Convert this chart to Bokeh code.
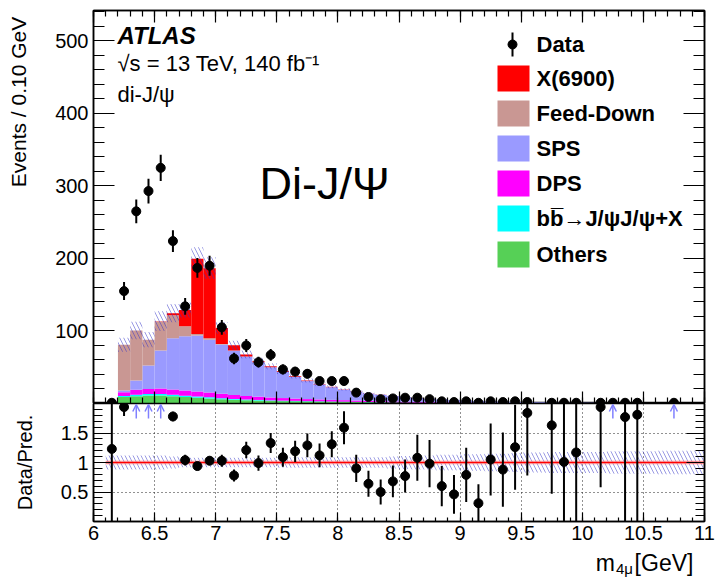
import numpy as np
from bokeh.plotting import figure
from bokeh.layouts import column
from bokeh.models import (ColumnDataSource, FixedTicker, Label, Arrow, OpenHead,
                          Range1d, LinearAxis, CustomJSTickFormatter)
from bokeh.embed import file_html
from bokeh.resources import INLINE

# ---------------- data (bins of 0.10 GeV starting at 6.1 GeV) ----------------
bin_lo = 6.1
bin_w = 0.1
n_bins = 49

data_counts = [1, 155, 265, 293, 325, 224, 134, 187, 190, 105,
               62, 80, 57, 67, 47, 44, 41, 31, 31, 31,
               15, 9, 6, 7, 8, 8, 6, 3, 2, 3,
               1, 3, 2, 3, 2, None, 1, 1, 1, None,
               1, 1, 1, 1, None, None, 1, None, None]
data_err = [1.0, 12.4, 16.3, 17.1, 18.0, 15.0, 11.6, 13.7, 13.8, 10.2,
            7.9, 8.9, 7.5, 8.2, 6.9, 6.6, 6.4, 5.6, 5.6, 5.6,
            3.9, 3.0, 2.4, 2.6, 2.8, 2.8, 2.4, 1.7, 1.4, 1.7,
            1.0, 1.7, 1.4, 1.7, 1.4, None, 1.0, 1.0, 1.0, None,
            1.0, 1.0, 1.0, 1.0, None, None, 1.0, None, None]

x6900 = [0, 0, 0, 0, 0.5, 3.0, 22.3, 103.5, 96.7, 22.0,
         7.0, 2.8, 1.4, 1.3, 1.1, 1.0, 0.8, 0.6, 0.5, 0.4,
         0.3, 0.2, 0.2, 0.1, 0.1, 0.1, 0.05, 0, 0, 0,
         0, 0, 0, 0, 0, 0, 0, 0, 0, 0,
         0, 0, 0, 0, 0, 0, 0, 0, 0]
feed_down = [0, 63.0, 69.0, 35.6, 40.0, 31.6, 13.8, 2.2, 2.0, 0.5,
             0.2, 0, 0, 0, 0, 0, 0, 0, 0, 0,
             0, 0, 0, 0, 0, 0, 0, 0, 0, 0,
             0, 0, 0, 0, 0, 0, 0, 0, 0, 0,
             0, 0, 0, 0, 0, 0, 0, 0, 0]
sps = [0.2, 2.5, 12.7, 32.4, 52.3, 70.7, 74.9, 77.2, 73.0, 68.2,
       61.3, 54.3, 47.6, 41.7, 36.0, 29.9, 24.8, 20.8, 17.5, 14.5,
       12.3, 10.1, 8.5, 7.4, 6.45, 5.5, 4.6, 3.85, 3.3, 2.8,
       2.35, 1.95, 1.67, 1.48, 1.27, 1.03, 0.89, 0.75, 0.64, 0.54,
       0.48, 0.40, 0.33, 0.30, 0.27, 0.24, 0.21, 0.18, 0.14]
dps = [0.2, 5.0, 7.0, 7.0, 7.7, 7.3, 7.2, 7.0, 6.5, 6.0,
       5.5, 5.0, 4.5, 4.0, 3.6, 3.2, 2.8, 2.5, 2.2, 2.0,
       1.8, 1.6, 1.4, 1.2, 1.05, 0.9, 0.8, 0.7, 0.6, 0.5,
       0.45, 0.4, 0.35, 0.3, 0.27, 0.24, 0.21, 0.19, 0.17, 0.15,
       0.13, 0.12, 0.11, 0.10, 0.09, 0.08, 0.07, 0.06, 0.05]
bbbar = [0.1, 1.5, 2.0, 2.0, 2.0, 2.0, 1.8, 1.6, 1.5, 1.3,
         1.2, 1.0, 0.9, 0.8, 0.7, 0.6, 0.5, 0.5, 0.4, 0.4,
         0.3, 0.3, 0.3, 0.2, 0.2, 0.2, 0.15, 0.15, 0.1, 0.1,
         0.1, 0.1, 0.08, 0.07, 0.06, 0.05, 0.05, 0.04, 0.04, 0.03,
         0.03, 0.03, 0.02, 0.02, 0.02, 0.02, 0.02, 0.01, 0.01]
others = [0.3, 9.0, 10.0, 11.0, 11.0, 10.0, 9.0, 8.0, 7.0, 6.0,
          5.0, 4.5, 4.0, 3.5, 3.2, 3.0, 2.8, 2.6, 2.4, 2.2,
          2.0, 1.8, 1.6, 1.4, 1.2, 1.0, 0.9, 0.8, 0.7, 0.6,
          0.5, 0.45, 0.4, 0.35, 0.3, 0.28, 0.25, 0.22, 0.2, 0.18,
          0.16, 0.15, 0.14, 0.13, 0.12, 0.11, 0.1, 0.1, 0.1]

rel_unc = [0.12, 0.12, 0.12, 0.12, 0.12, 0.10, 0.08, 0.08, 0.08, 0.08,
           0.08, 0.08, 0.08, 0.08, 0.09, 0.09, 0.09, 0.09, 0.09, 0.09,
           0.09, 0.09, 0.09, 0.10, 0.11, 0.12, 0.12, 0.13, 0.13, 0.14,
           0.14, 0.15, 0.15, 0.16, 0.17, 0.17, 0.18, 0.18, 0.18, 0.18,
           0.18, 0.19, 0.19, 0.19, 0.19, 0.20, 0.20, 0.20, 0.20]

ratio_vals = [1.23, 1.94, None, None, None, 1.78, 1.04, 0.94, 1.03, 1.03,
              0.78, 1.21, 0.99, 1.33, 1.09, 1.19, 1.29, 1.12, 1.31, 1.59,
              0.90, 0.64, 0.50, 0.68, 0.77, 1.08, 0.98, 0.60, 0.46, 0.79,
              0.31, 1.05, 0.88, 1.26, 1.84, None, 1.63, 1.01, 1.17, None,
              1.94, None, 1.77, 1.81, None, None, None, None, None]
ratio_err = [2.0, 0.15, None, None, None, 0.08, 0.09, 0.07, 0.07, 0.10,
             0.10, 0.14, 0.13, 0.17, 0.16, 0.18, 0.20, 0.20, 0.22, 0.28,
             0.23, 0.22, 0.21, 0.27, 0.28, 0.39, 0.40, 0.34, 0.33, 0.46,
             0.32, 0.61, 0.63, 0.72, 1.06, None, 1.16, 1.20, 1.20, None,
             1.36, None, 2.0, 2.0, None, None, None, None, None]
ratio_offscale_x = [6.35, 6.45, 6.55, 10.25, 10.75]

legend_labels = ["X(6900)", "Feed-Down", "SPS", "DPS",
                 "b\u0062\u0305\u2192J/\u03c8J/\u03c8+X", "Others"]
x_tick_vals = [6, 6.5, 7, 7.5, 8, 8.5, 9, 9.5, 10, 10.5, 11]
y_tick_vals = [0, 100, 200, 300, 400, 500]
r_tick_vals = [0, 0.5, 1, 1.5, 2]

# ---------------- styling / geometry ----------------
FONT = "Liberation Sans"
colors = ["#56d056", "#00ffff", "#ff00ff", "#9a9aff", "#c99793", "#ff0000"]
legend_colors = ["#ff0000", "#c99793", "#9a9aff", "#ff00ff", "#00ffff", "#56d056"]
W = 717
BL = 93
FW = 611
BR = W - BL - FW
MAIN_H, MAIN_BT = 403, 10
RFH = 118
RAT_BB = 28
RAT_H = RFH + RAT_BB
TITLE_H = 577 - MAIN_H - RAT_H
X0, X1 = 6.0, 11.0
YMAX = 542.0
MFH = MAIN_H - MAIN_BT


def mx(px):
    return X0 + (px - BL) / FW * (X1 - X0)


def my(py):
    return YMAX - (py - MAIN_BT) / MFH * YMAX


def ry(py):
    return 2.0 - (py - MAIN_H) / RFH * 2.0


lefts = bin_lo + bin_w * np.arange(n_bins)
rights = lefts + bin_w
centers = lefts + bin_w / 2

minor_x = [round(6.0 + 0.1 * i, 1) for i in range(51)]

fmt_js = CustomJSTickFormatter(code="""
    if (Math.abs(tick) < 1e-9) { return ""; }
    return (Math.round(tick * 100) / 100).toString();
""")
fmt_r = CustomJSTickFormatter(code="""
    if (Math.abs(tick) < 1e-9 || Math.abs(tick - 2) < 1e-9) { return ""; }
    return (Math.round(tick * 100) / 100).toString();
""")
fmt_x = CustomJSTickFormatter(code="""
    return (Math.round(tick * 100) / 100).toString();
""")


def style_axis(ax, major_in, minor_in, labels=True, size="20px"):
    ax.major_tick_in = major_in
    ax.major_tick_out = 0
    ax.minor_tick_in = minor_in
    ax.minor_tick_out = 0
    ax.major_tick_line_width = 1.2
    ax.minor_tick_line_width = 1.2
    ax.major_tick_line_color = "black"
    ax.minor_tick_line_color = "black"
    ax.axis_line_color = "black"
    ax.axis_line_width = 1.5
    ax.axis_label = None
    if labels:
        ax.major_label_text_font = FONT
        ax.major_label_text_font_size = size
        ax.major_label_text_color = "black"
    else:
        ax.formatter = CustomJSTickFormatter(code="return '';")
        ax.major_label_text_font_size = "1px"
        ax.major_label_standoff = 0


def set_title(ax, text, standoff, size="20px"):
    ax.axis_label = text
    ax.axis_label_text_font = FONT
    ax.axis_label_text_font_size = size
    ax.axis_label_text_font_style = "normal"
    ax.axis_label_text_color = "black"
    ax.axis_label_standoff = standoff


# ---------------- main panel ----------------
p = figure(width=W, height=MAIN_H, x_range=Range1d(X0, X1), y_range=Range1d(0, YMAX),
           output_backend="svg", toolbar_location=None,
           min_border_left=BL, min_border_right=BR, min_border_top=MAIN_BT,
           min_border_bottom=0)
p.grid.visible = False
p.outline_line_color = "black"
p.outline_line_width = 1.5
p.background_fill_color = "white"

p.xaxis.ticker = FixedTicker(ticks=x_tick_vals, minor_ticks=minor_x)
style_axis(p.xaxis[0], 12, 6, labels=False)
p.yaxis.ticker = FixedTicker(ticks=y_tick_vals, minor_ticks=list(range(0, 541, 20)))
p.yaxis.formatter = fmt_js
style_axis(p.yaxis[0], 21, 11)
p.yaxis.major_label_standoff = 5
# title is pushed toward the top end of the axis (ROOT style) with leading em spaces
set_title(p.yaxis[0], "\u2003" * 10 + "Events / 0.10 GeV", 22, size="21px")

top_ax = LinearAxis(ticker=FixedTicker(ticks=x_tick_vals, minor_ticks=minor_x))
style_axis(top_ax, 12, 6, labels=False)
p.add_layout(top_ax, "above")
right_ax = LinearAxis(ticker=FixedTicker(ticks=y_tick_vals, minor_ticks=list(range(0, 541, 20))))
style_axis(right_ax, 21, 11, labels=False)
p.add_layout(right_ax, "right")

# stacked histogram
bottom = np.zeros(n_bins)
for comp, col in zip([others, bbbar, dps, sps, feed_down, x6900], colors):
    top = bottom + np.array(comp, dtype=float)
    p.quad(left=lefts, right=rights, bottom=bottom, top=top,
           fill_color=col, line_color=None)
    bottom = top
total = bottom
rel = np.array(rel_unc)

# uncertainty hatch
p.quad(left=lefts, right=rights, bottom=total * (1 - rel), top=total * (1 + rel),
       fill_alpha=0, line_alpha=0, hatch_pattern="\\", hatch_color="#3535c8",
       hatch_alpha=0.5, hatch_scale=8, hatch_weight=1)

# data
dmask = np.array([c is not None for c in data_counts])
dx = centers[dmask]
dy = np.array([c for c in data_counts if c is not None], dtype=float)
de = np.array([e for e in data_err if e is not None], dtype=float)
p.segment(x0=dx, y0=dy - de, x1=dx, y1=dy + de, line_color="black", line_width=2)
p.scatter(x=dx, y=dy, size=9, color="black")

# labels
p.add_layout(Label(x=mx(117), y=my(35), text="ATLAS", text_font=FONT,
                   text_font_size="24px", text_font_style="bold italic",
                   text_baseline="middle", text_color="black"))
p.add_layout(Label(x=mx(117), y=my(63), text="\u221As = 13 TeV, 140 fb\u207b\u00b9",
                   text_font=FONT, text_font_size="22px",
                   text_baseline="middle", text_color="black"))
p.add_layout(Label(x=mx(117), y=my(94), text="di-J/\u03c8", text_font=FONT,
                   text_font_size="22px", text_baseline="middle", text_color="black"))
p.add_layout(Label(x=mx(324), y=my(183), text="Di-J/\u03a8", text_font=FONT,
                   text_font_size="45px", text_align="center",
                   text_baseline="middle", text_color="black"))

# legend (drawn by hand, ROOT style)
p.segment(x0=[mx(512)], y0=[my(32)], x1=[mx(512)], y1=[my(56)],
          line_color="black", line_width=2)
p.scatter(x=[mx(512)], y=[my(44)], size=9, color="black")
p.add_layout(Label(x=mx(536), y=my(44), text="Data", text_font=FONT,
                   text_font_size="22px", text_font_style="bold",
                   text_baseline="middle", text_color="black"))
row_y = [78, 113, 148, 183, 218, 254]
for lab, col, yy in zip(legend_labels, legend_colors, row_y):
    p.quad(left=[mx(497)], right=[mx(529)], bottom=[my(yy + 13)], top=[my(yy - 13)],
           fill_color=col, line_color=None)
    p.add_layout(Label(x=mx(536), y=my(yy), text=lab, text_font=FONT,
                       text_font_size="22px", text_font_style="bold",
                       text_baseline="middle", text_color="black"))

# ---------------- ratio panel ----------------
r = figure(width=W, height=RAT_H, x_range=p.x_range, y_range=Range1d(0, 2),
           output_backend="svg", toolbar_location=None,
           min_border_left=BL, min_border_right=BR, min_border_top=0,
           min_border_bottom=RAT_BB)
r.outline_line_color = "black"
r.outline_line_width = 1.5
r.xaxis.ticker = FixedTicker(ticks=x_tick_vals, minor_ticks=minor_x)
r.xaxis.formatter = fmt_x
style_axis(r.xaxis[0], 9, 4)
r.xaxis.major_label_standoff = 4
r.yaxis.ticker = FixedTicker(ticks=r_tick_vals,
                             minor_ticks=[round(0.1 * i, 1) for i in range(21)])
r.yaxis.formatter = fmt_r
style_axis(r.yaxis[0], 18, 9)
r.yaxis.major_label_standoff = 5
set_title(r.yaxis[0], "Data/Pred.", 22)
r_right = LinearAxis(ticker=FixedTicker(ticks=r_tick_vals,
                                        minor_ticks=[round(0.1 * i, 1) for i in range(21)]))
style_axis(r_right, 18, 9, labels=False)
r.add_layout(r_right, "right")

r.xgrid.ticker = FixedTicker(ticks=x_tick_vals[1:-1])
r.ygrid.ticker = FixedTicker(ticks=[0.5, 1, 1.5])
r.grid.grid_line_color = "#222222"
r.grid.grid_line_dash = "1 3"
r.grid.grid_line_width = 1

# ratio uncertainty band
r.quad(left=lefts, right=rights, bottom=1 - rel, top=1 + rel,
       fill_alpha=0, line_alpha=0, hatch_pattern="\\", hatch_color="#3535c8",
       hatch_alpha=0.5, hatch_scale=8, hatch_weight=1)
r.segment(x0=[lefts[0]], y0=[1], x1=[rights[-1]], y1=[1], line_color="#ff9090",
          line_width=4, line_alpha=0.5)
r.segment(x0=[lefts[0]], y0=[1], x1=[rights[-1]], y1=[1], line_color="red",
          line_width=1.5)

rmask = np.array([v is not None for v in ratio_vals])
rx = centers[rmask]
rv = np.array([v for v in ratio_vals if v is not None], dtype=float)
re_ = np.array([e for e in ratio_err if e is not None], dtype=float)
r.segment(x0=rx, y0=rv - re_, x1=rx, y1=rv + re_, line_color="black", line_width=2)
r.scatter(x=rx, y=rv, size=9, color="black")

arr_src = ColumnDataSource(dict(x=ratio_offscale_x,
                                y0=[ry(418)] * len(ratio_offscale_x),
                                y1=[ry(404)] * len(ratio_offscale_x)))
r.add_layout(Arrow(source=arr_src, x_start="x", y_start="y0", x_end="x", y_end="y1",
                   line_color="#8080ff", line_width=1.5,
                   end=OpenHead(size=7, line_color="#8080ff", line_width=1.5)))

# ---------------- x-axis title strip (ROOT style "m_{4mu} [GeV]") ----------------
t = figure(width=W, height=TITLE_H, x_range=Range1d(0, W), y_range=Range1d(0, TITLE_H),
           output_backend="svg", toolbar_location=None, title=None,
           x_axis_location=None, y_axis_location=None,
           min_border_left=0, min_border_right=0, min_border_top=0, min_border_bottom=0)
t.grid.visible = False
t.outline_line_color = None
# y measured from the bottom of the strip; text is vertically centred on it
t.add_layout(Label(x=612, y=TITLE_H * 0.52, text="m", text_font=FONT,
                   text_font_size="23px", text_align="right",
                   text_baseline="middle", text_color="black"))
t.add_layout(Label(x=613, y=TITLE_H * 0.33, text="4\u03bc", text_font=FONT,
                   text_font_size="15px", text_align="left",
                   text_baseline="middle", text_color="black"))
t.add_layout(Label(x=635, y=TITLE_H * 0.52, text="[GeV]", text_font=FONT,
                   text_font_size="23px", text_align="left",
                   text_baseline="middle", text_color="black"))

layout = column(p, r, t, spacing=0)
with open("out.html", "w") as f:
    f.write(file_html(layout, INLINE))
